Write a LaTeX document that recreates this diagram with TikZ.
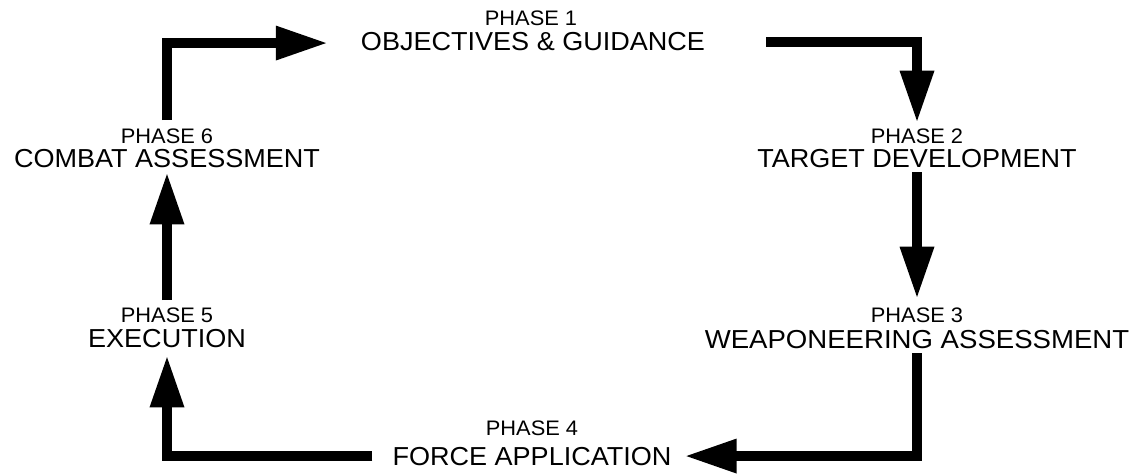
\documentclass[tikz,border=0pt]{standalone}
\usepackage{fontspec}
\usetikzlibrary{arrows.meta}
\newfontfamily\lblfont[FakeStretch=1.04]{Liberation Sans}
\begin{document}
\begin{tikzpicture}[x=1pt,y=-1pt,
  phasehead/.style={inner sep=0pt,anchor=base,font=\lblfont\fontsize{21}{24}\selectfont},
  phasename/.style={inner sep=0pt,anchor=base,font=\lblfont\fontsize{26}{30}\selectfont},
  conn/.style={line width=9.5pt,line join=miter,line cap=butt,
    -{Triangle[width=32pt,length=52pt]}}]
\useasboundingbox (0,0) rectangle (1135,475);
% phase labels
\node[phasehead] (h1) at (531,25) {PHASE 1};
\node[phasename] (c1) at (533,50) {OBJECTIVES \& GUIDANCE};
\node[phasehead] (h2) at (917,143) {PHASE 2};
\node[phasename] (c2) at (917,167) {TARGET DEVELOPMENT};
\node[phasehead] (h3) at (917,322) {PHASE 3};
\node[phasename] (c3) at (917,348) {\scalebox{1.02}[1]{WEAPONEERING ASSESSMENT}};
\node[phasehead] (h4) at (532,435) {PHASE 4};
\node[phasename] (c4) at (532,465) {FORCE APPLICATION};
\node[phasehead] (h5) at (167,322) {PHASE 5};
\node[phasename] (c5) at (167,347) {EXECUTION};
\node[phasehead] (h6) at (167,143) {PHASE 6};
\node[phasename] (c6) at (167,167) {COMBAT ASSESSMENT};
% connectors
\draw[conn] ([yshift=8pt]h6.north) |- ([xshift=-33pt,yshift=-2pt]c1.west);
\draw[conn] ([xshift=61pt,yshift=-1pt]c1.east) -| ([yshift=5.5pt]h2.north);
\draw[conn] ([yshift=-5pt]c2.south) -- ([yshift=8.5pt]h3.north);
\draw[conn] ([yshift=-5pt]c3.south) |- ([xshift=13pt]c4.east);
\draw[conn] ([xshift=-20pt]c4.west) -| ([yshift=-8pt]c5.south);
\draw[conn] ([yshift=7pt]h5.north) -- ([yshift=-5pt]c6.south);
\end{tikzpicture}
\end{document}
